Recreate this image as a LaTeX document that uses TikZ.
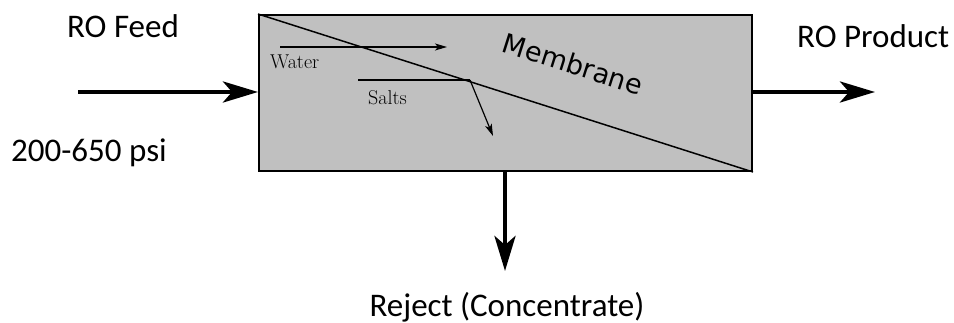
\documentclass[tikz,border=0pt]{standalone}
\usepackage{fontspec}
\setmainfont{Carlito}
\newfontfamily\memfont{DejaVu Sans}
\usetikzlibrary{arrows.meta}
\tikzset{
  flow/.style={line width=4.5pt,-{Stealth[length=35pt,width=21pt,inset=9pt]}},
  thin/.style={line width=1.2pt,-{Stealth[length=12pt,width=7pt,inset=3pt]}},
  lbl/.style={font=\fontsize{33}{36}\selectfont,inner sep=0pt},
  small/.style={font=\fontspec{Latin Modern Roman}\fontsize{20}{24}\selectfont,inner sep=0pt,anchor=base west},
}
\begin{document}
\begin{tikzpicture}[x=1pt,y=-1pt]
\useasboundingbox (0,0) rectangle (954,323);
\node[draw,line width=2pt,fill={rgb,255:red,192;green,192;blue,192},minimum width=493pt,minimum height=156pt,inner sep=0pt,anchor=north west] (box) at (258,14) {};
\draw[line width=1.5pt] (box.north west) -- (box.south east);
\coordinate (fin) at (78,92);
\coordinate (pout) at (875,92);
\coordinate (rout) at (505,271);
\draw[flow] (fin) -- (fin -| box.west);
\draw[flow] (pout -| box.east) -- (pout);
\draw[flow] (rout |- box.south) -- (rout);
\coordinate (w1) at (280,47);
\coordinate (w2) at (447,47);
\draw[thin] (w1) -- (w2);
\coordinate (s1) at (358,80);
\coordinate (s2) at (470,80);
\coordinate (s3) at (493,136);
\draw[line width=1.2pt] (s1) -- (s2);
\draw[thin] (s2) -- (s3);
\node[small] (water) at (270,69) {Water};
\node[small] (salts) at (368,105) {Salts};
\node[font=\memfont\fontsize{27}{30}\selectfont,inner sep=0pt,rotate=-17.6] (mem) at (573,64) {Membrane};
\node[lbl,anchor=base] (feed) at (123,38) {RO Feed};
\node[lbl,anchor=base west] (psi) at (11,162) {200-650 psi};
\node[lbl,anchor=base west] (prod) at (797,48) {RO Product};
\node[lbl,anchor=base] (rej) at (507,317) {Reject (Concentrate)};
\end{tikzpicture}
\end{document}
